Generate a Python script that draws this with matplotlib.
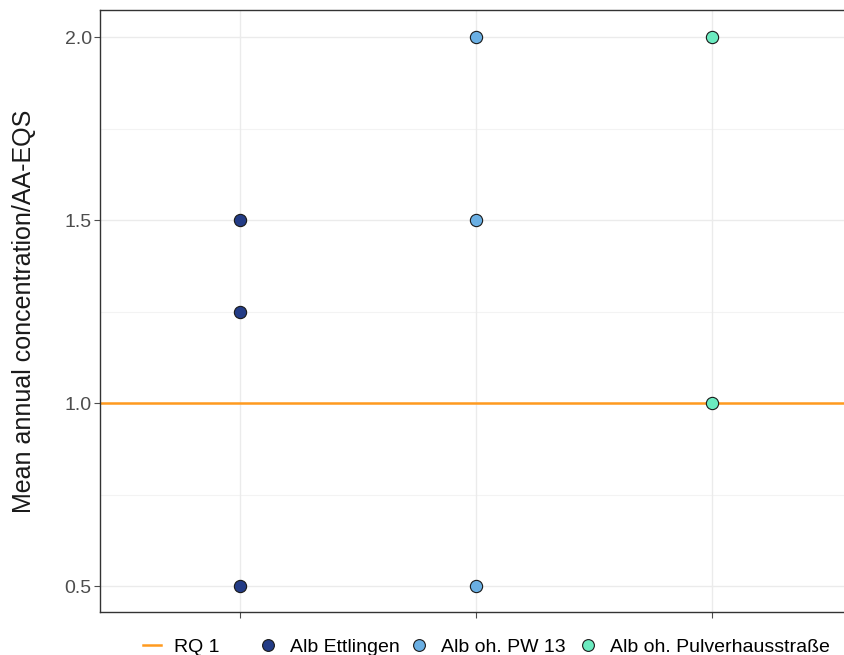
import matplotlib
matplotlib.use("Agg")
import matplotlib.pyplot as plt
from matplotlib.lines import Line2D

plt.rcParams['font.family'] = ['Liberation Sans', 'DejaVu Sans']

# Sites on the discrete x axis and their RQ values
sites = ["Alb Ettlingen", "Alb oh. PW 13", "Alb oh. Pulverhausstraße"]
ettlingen_rq = [1.5, 1.25, 0.5]
pw13_rq = [2.0, 1.5, 0.5]
pulverhaus_rq = [2.0, 1.0]
site_values = [ettlingen_rq, pw13_rq, pulverhaus_rq]
site_colors = ["#233C86", "#6AAFE3", "#6BEBC0"]
rq_threshold = 1.0
y_ticks = [0.5, 1.0, 1.5, 2.0]
y_minor = [0.75, 1.25, 1.75]

W, H = 844, 655
fig = plt.figure(figsize=(W / 100, H / 100), dpi=100)
ax = fig.add_axes([100 / W, (H - 612) / H, 744 / W, 602 / H])

ax.set_xlim(0.407, 3.56)
ax.set_ylim(0.429, 2.074)

# panel grid
for y in y_ticks:
    ax.axhline(y, color="#EBEBEB", lw=1.0, zorder=0)
for y in y_minor:
    ax.axhline(y, color="#F3F3F3", lw=0.8, zorder=0)
for i in range(len(sites)):
    ax.axvline(i + 1, color="#EBEBEB", lw=1.0, zorder=0)

ax.axhline(rq_threshold, color="#FF9A1F", lw=1.8, zorder=2)

for i, (vals, col) in enumerate(zip(site_values, site_colors)):
    ax.scatter([i + 1] * len(vals), vals, s=78, color=col,
               edgecolors="#1a1a1a", linewidths=0.8, zorder=3)

ax.set_yticks(y_ticks)
ax.set_yticklabels(["0.5", "1.0", "1.5", "2.0"])
ax.set_xticks([1, 2, 3])
ax.set_xticklabels([])
ax.tick_params(axis="y", labelsize=14, colors="#4D4D4D", length=4,
               width=0.8, pad=2)
ax.tick_params(axis="x", length=4, width=0.8, colors="#4D4D4D")
for s in ["left", "bottom", "top"]:
    ax.spines[s].set_color("#333333")
    ax.spines[s].set_linewidth(1.0)
ax.spines["right"].set_visible(False)

ax.set_ylabel("Mean annual concentration/AA-EQS", fontsize=18,
              color="#1a1a1a")
ax.yaxis.set_label_coords(-64 / 744, 0.5)

# bottom legend, one entry per key so each can sit at its own spot
handles = [Line2D([0], [0], color="#FF9A1F", lw=1.8, label="RQ 1")]
for name, col in zip(sites, site_colors):
    handles.append(Line2D([0], [0], marker="o", linestyle="none",
                          markerfacecolor=col, markeredgecolor="#1a1a1a",
                          markeredgewidth=0.8, markersize=8.5, label=name))
key_x = [143, 259, 410, 579]
for h, x in zip(handles, key_x):
    fig.legend(handles=[h], loc="center left",
               bbox_to_anchor=(x / W, 8 / H), frameon=False, fontsize=14,
               handlelength=0.9, handletextpad=0.7, borderpad=0,
               borderaxespad=0)

fig.savefig("out.png", dpi=100)
